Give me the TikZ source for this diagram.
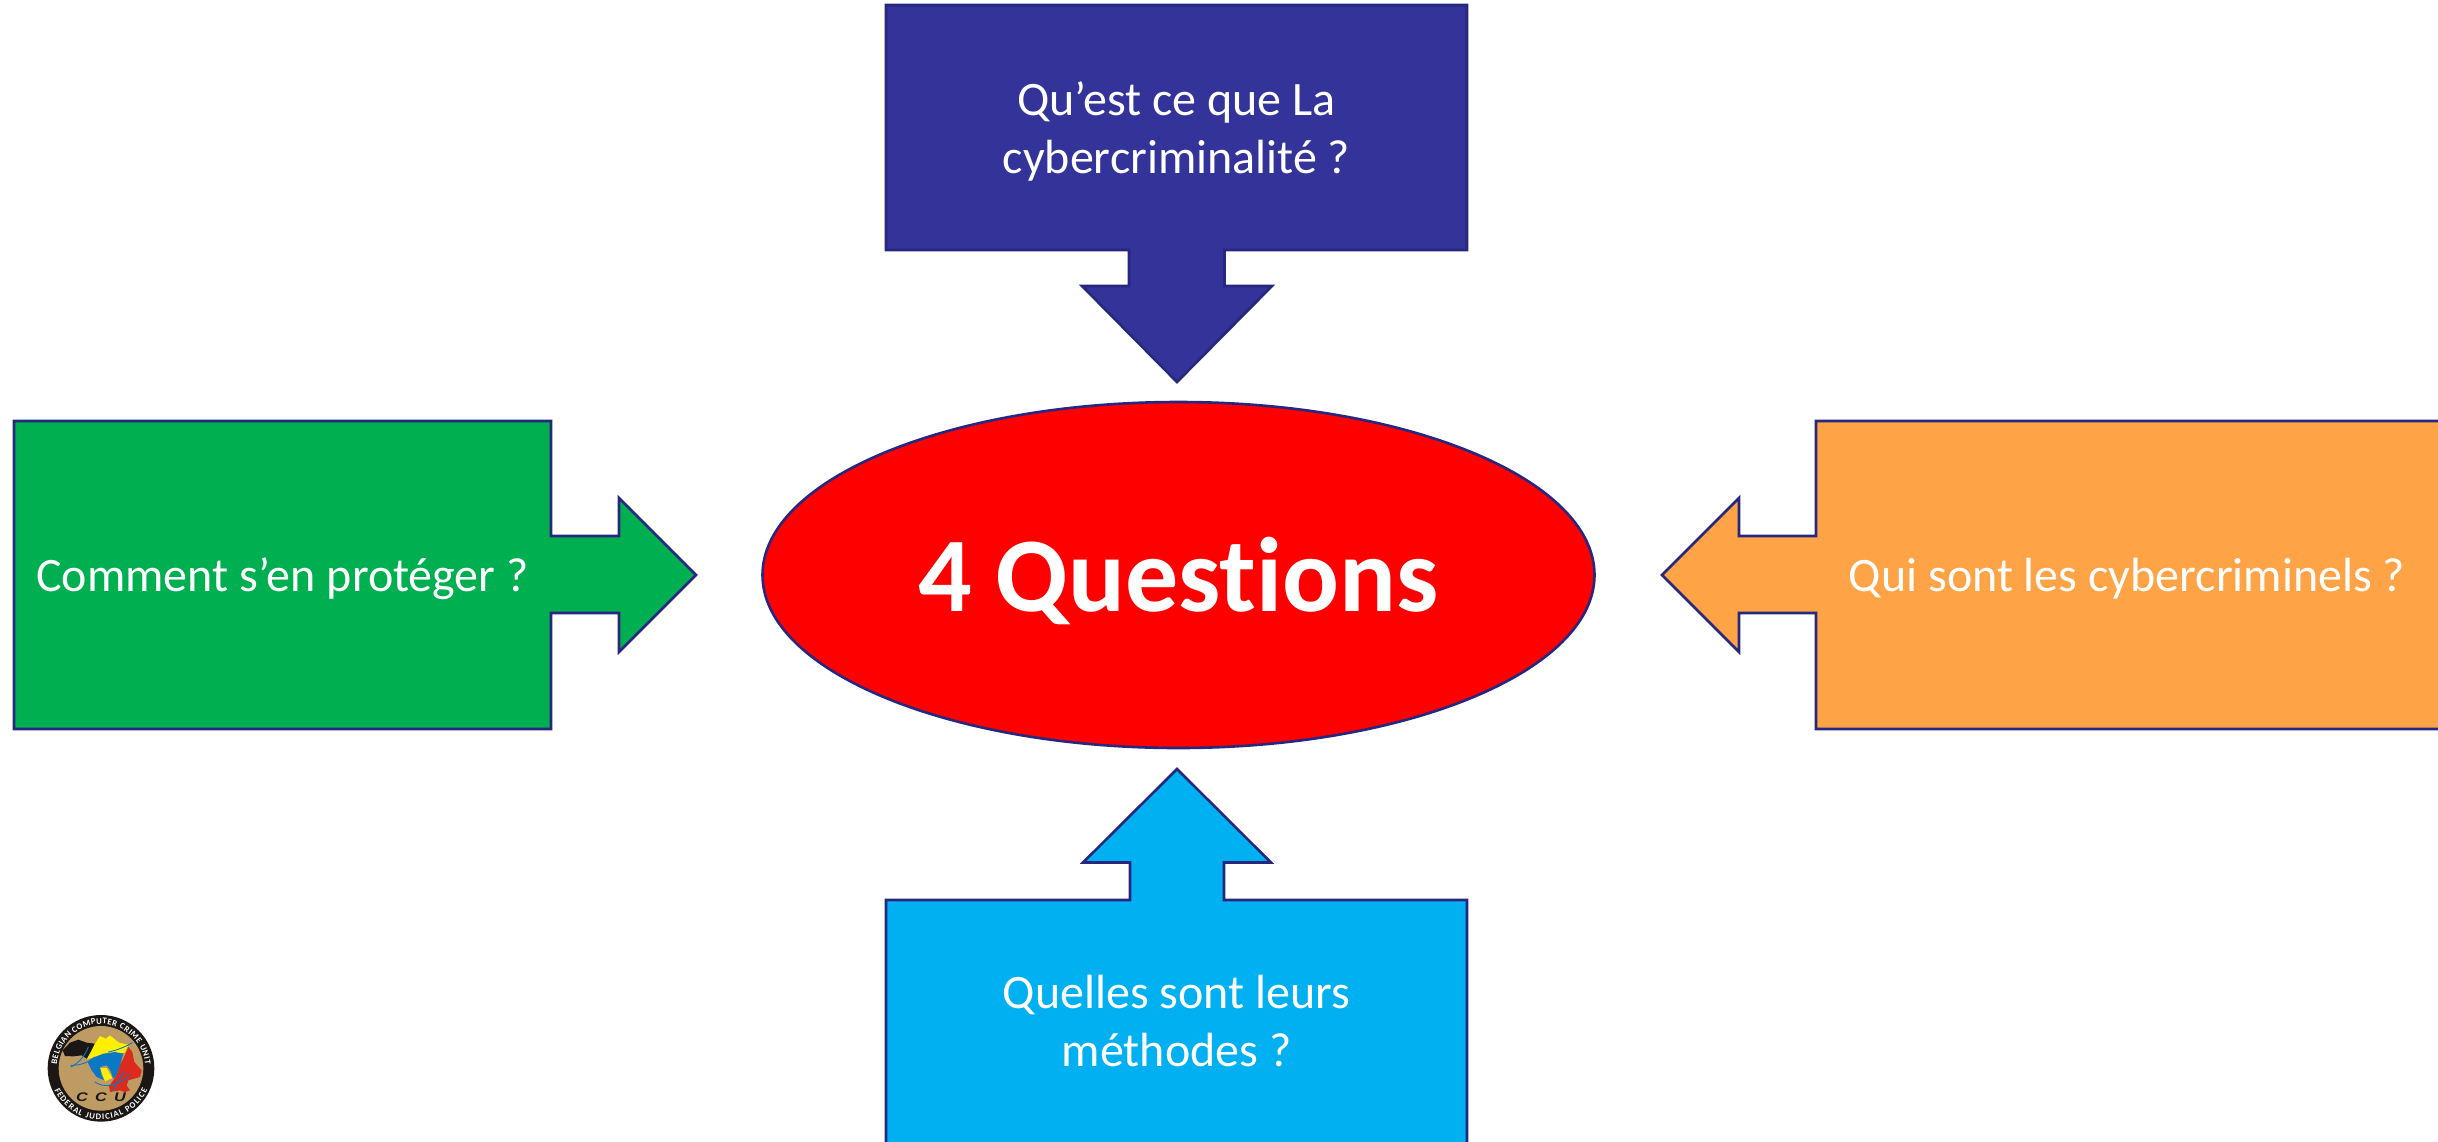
\documentclass[tikz,border=0pt]{standalone}
\usepackage{fontspec}
\setmainfont{Carlito}[Ligatures=NoCommon]
\newfontfamily\ringfont{Carlito}
\newfontfamily\ccufont[LetterSpace=45]{Liberation Sans}
\usetikzlibrary{decorations.text,shapes.geometric}
\definecolor{edgeblue}{HTML}{27277F}
\definecolor{indigo}{HTML}{333399}
\definecolor{leaf}{HTML}{00B050}
\definecolor{amber}{HTML}{FFA347}
\definecolor{sky}{HTML}{00B0F0}
\definecolor{tan}{HTML}{BE9B62}
\definecolor{lred}{HTML}{DD2A1E}
\definecolor{lyellow}{HTML}{FFEF00}
\definecolor{lblue}{HTML}{0A78C2}
\definecolor{lblack}{HTML}{1A1714}
\tikzset{
  callout/.style={draw=edgeblue,line width=2.6pt,line join=miter,miter limit=10},
  label/.style={text=white,align=center,inner sep=0pt,anchor=base,font=\fontsize{48}{58}\selectfont},
  streak/.style={draw=lblue,line width=0.9pt,line cap=round},
}
\begin{document}
\begin{tikzpicture}[x=1pt,y=-1pt]
\useasboundingbox (0,0) rectangle (2438,1141);
% top
\draw[callout,fill=indigo] (886,5) -- (1467,5) -- (1467,250) -- (1224.5,250) -- (1224.5,286) -- (1272,286) -- (1177,382) -- (1082,286) -- (1129,286) -- (1129,250) -- (886,250) -- cycle;
% bottom
\draw[callout,fill=sky] (886,1145) -- (886,900) -- (1130,900) -- (1130,862.5) -- (1083,862.5) -- (1177,769) -- (1271,862.5) -- (1224,862.5) -- (1224,900) -- (1467,900) -- (1467,1145) -- cycle;
% left
\draw[callout,fill=leaf] (14,421) -- (551,421) -- (551,536) -- (619,536) -- (619,498) -- (696,575) -- (619,652) -- (619,613) -- (551,613) -- (551,729) -- (14,729) -- cycle;
% right
\draw[callout,fill=amber] (2442,421) -- (1816,421) -- (1816,536) -- (1739,536) -- (1739,498) -- (1662,575) -- (1739,652) -- (1739,613) -- (1816,613) -- (1816,729) -- (2442,729) -- cycle;
% ellipse
\node[ellipse,draw=edgeblue,line width=2.6pt,fill=red,minimum width=832pt,minimum height=346pt,inner sep=0pt] (hub) at (1178.5,575) {};
% labels
\node[label] (t1a) at (1176.5,115) {Qu’est ce que La};
\node[label] (t1b) at (1176.5,173) {cybercriminalité ?};
\node[label] (t2a) at (1176.5,1008) {Quelles sont leurs};
\node[label] (t2b) at (1176.5,1066.5) {méthodes ?};
\node[label] (t3) at (282.5,591) {Comment s’en protéger ?};
\node[label] (t4) at (2127,591) {Qui sont les cybercriminels ?};
\node[label,font=\fontsize{106}{120}\selectfont\bfseries] (hubtext) at (1178.5,611) {4 Questions};
% logo, in the pixels of a 3x crop whose corner is (45,1012)
\begin{scope}[shift={(45,1012)},x=0.33333pt,y=-0.33333pt]
\fill[white] (168,169) circle (163);
\fill[lblack] (168,169) circle (160);
\fill[tan] (168,169) circle (127);
\fill[lblack] (53,115) -- (75,92) -- (100,83) -- (125,92) -- (150,95) -- (138,120) -- (125,140) -- (110,130) -- (85,133) -- (60,132) -- cycle;
\fill[lyellow] (126,142) -- (150,95) -- (165,72) -- (182,80) -- (195,70) -- (222,92) -- (250,98) -- (240,122) -- (200,124) -- (170,128) -- cycle;
\fill[lyellow] (165,168) -- (185,168) -- (202,198) -- (180,208) -- cycle;
\fill[lred] (250,105) -- (235,140) -- (222,165) -- (215,190) -- (205,205) -- (192,222) -- (195,240) -- (225,235) -- (240,240) -- (255,235) -- (245,220) -- (250,205) -- (285,195) -- (290,175) -- (268,150) -- (262,120) -- cycle;
\fill[lblue] (128,150) -- (150,135) -- (175,125) -- (210,120) -- (235,125) -- (225,160) -- (214,192) -- (205,200) -- (196,175) -- (185,160) -- (165,165) -- (170,190) -- (178,205) -- (155,195) -- (140,175) -- cycle;
\draw[streak] (78,165) .. controls (105,150) and (120,130) .. (130,105);
\draw[streak] (78,160) .. controls (110,160) and (130,150) .. (150,135);
\draw[streak] (262,92) .. controls (240,105) and (215,115) .. (190,120);
\draw[streak] (150,210) .. controls (175,228) and (220,225) .. (255,188);
\draw[streak] (205,235) .. controls (212,215) and (222,200) .. (240,180);
\path[decorate,decoration={text along path,text align=fit to path,text={|\ringfont\bfseries\fontsize{8.6}{9}\selectfont\color{white}|BELGIAN COMPUTER CRIME UNIT}}] (168,169) ++(-175:133) arc[start angle=-175,end angle=-5,radius=133];
\path[decorate,decoration={text along path,text align=fit to path,text={|\ringfont\bfseries\fontsize{8.6}{9}\selectfont\color{white}|FEDERAL JUDICIAL POLICE}}] (168,169) ++(-205:154) arc[start angle=-205,end angle=-335,radius=154];
\node[inner sep=0pt,text=lblack,font=\ccufont\bfseries\itshape\fontsize{12.5}{13}\selectfont,xscale=1.3] (ccu) at (168,257) {CCU};
\end{scope}
\end{tikzpicture}
\end{document}
